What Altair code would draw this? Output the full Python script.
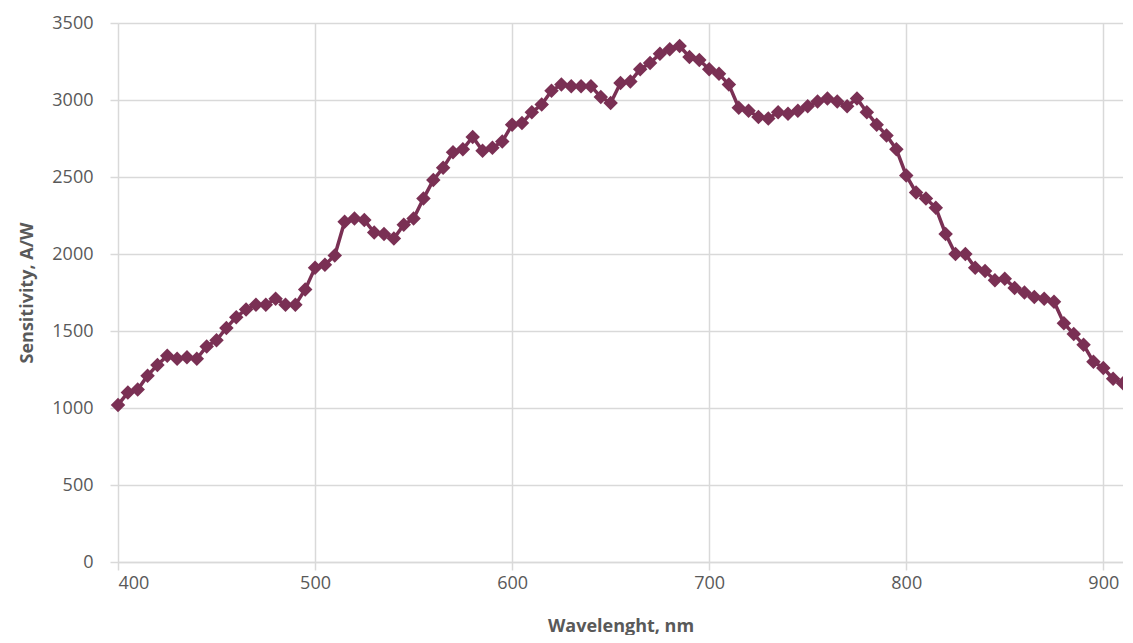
import altair as alt
import pandas as pd

wavelength = list(range(400, 911, 5))
sensitivity = [
    1020, 1100, 1120, 1210, 1280, 1340, 1320, 1330, 1320, 1400,
    1440, 1520, 1590, 1640, 1670, 1670, 1710, 1670, 1670, 1770,
    1910, 1930, 1990, 2210, 2230, 2220, 2140, 2130, 2100, 2190,
    2230, 2360, 2480, 2560, 2660, 2680, 2760, 2670, 2690, 2730,
    2840, 2850, 2920, 2970, 3060, 3100, 3090, 3090, 3090, 3020,
    2980, 3110, 3120, 3200, 3240, 3300, 3330, 3350, 3280, 3260,
    3200, 3170, 3100, 2950, 2930, 2890, 2880, 2920, 2910, 2930,
    2960, 2990, 3010, 2990, 2960, 3010, 2920, 2840, 2770, 2680,
    2510, 2400, 2360, 2300, 2130, 2000, 2000, 1910, 1890, 1830,
    1840, 1780, 1750, 1720, 1710, 1690, 1550, 1480, 1410, 1300,
    1260, 1190, 1160,
]
x_ticks = [400, 500, 600, 700, 800, 900]
y_ticks = [0, 500, 1000, 1500, 2000, 2500, 3000, 3500]

df = pd.DataFrame({"wl": wavelength, "s": sensitivity})

color = "#7a3054"
font = "Open Sans"

x = alt.X("wl:Q", title="Wavelenght, nm",
          scale=alt.Scale(domain=[400, 910], nice=False, zero=False),
          axis=alt.Axis(values=x_ticks, format="d", grid=True, tickSize=8,
                        labelPadding=4, titlePadding=25))
y = alt.Y("s:Q", title="Sensitivity, A/W",
          scale=alt.Scale(domain=[0, 3500], nice=False),
          axis=alt.Axis(values=y_ticks, format="d", grid=True, tickSize=8,
                        labelPadding=17, titlePadding=15, domain=False))

line = alt.Chart(df).mark_line(color=color, strokeWidth=3.5).encode(x=x, y=y)
pts = alt.Chart(df).mark_point(shape="diamond", filled=True, color=color,
                               size=210, opacity=1).encode(x=x, y=y)

chart = (line + pts).properties(
    width=1005, height=539,
    autosize=alt.AutoSizeParams(type="none"),
    padding={"left": 110, "top": 15, "right": 0, "bottom": 73},
).configure_view(stroke=None).configure_axis(
    gridColor="#d9d9d9", gridWidth=1.5, domainColor="#d9d9d9", domainWidth=1.5,
    tickColor="#d9d9d9", tickWidth=1.5,
    labelFont=font, labelFontSize=18, labelColor="#595959",
    titleFont=font, titleFontSize=18, titleColor="#595959", titleFontWeight="bold",
)

chart.save("out.html", embed_options={"renderer": "svg", "actions": False})
